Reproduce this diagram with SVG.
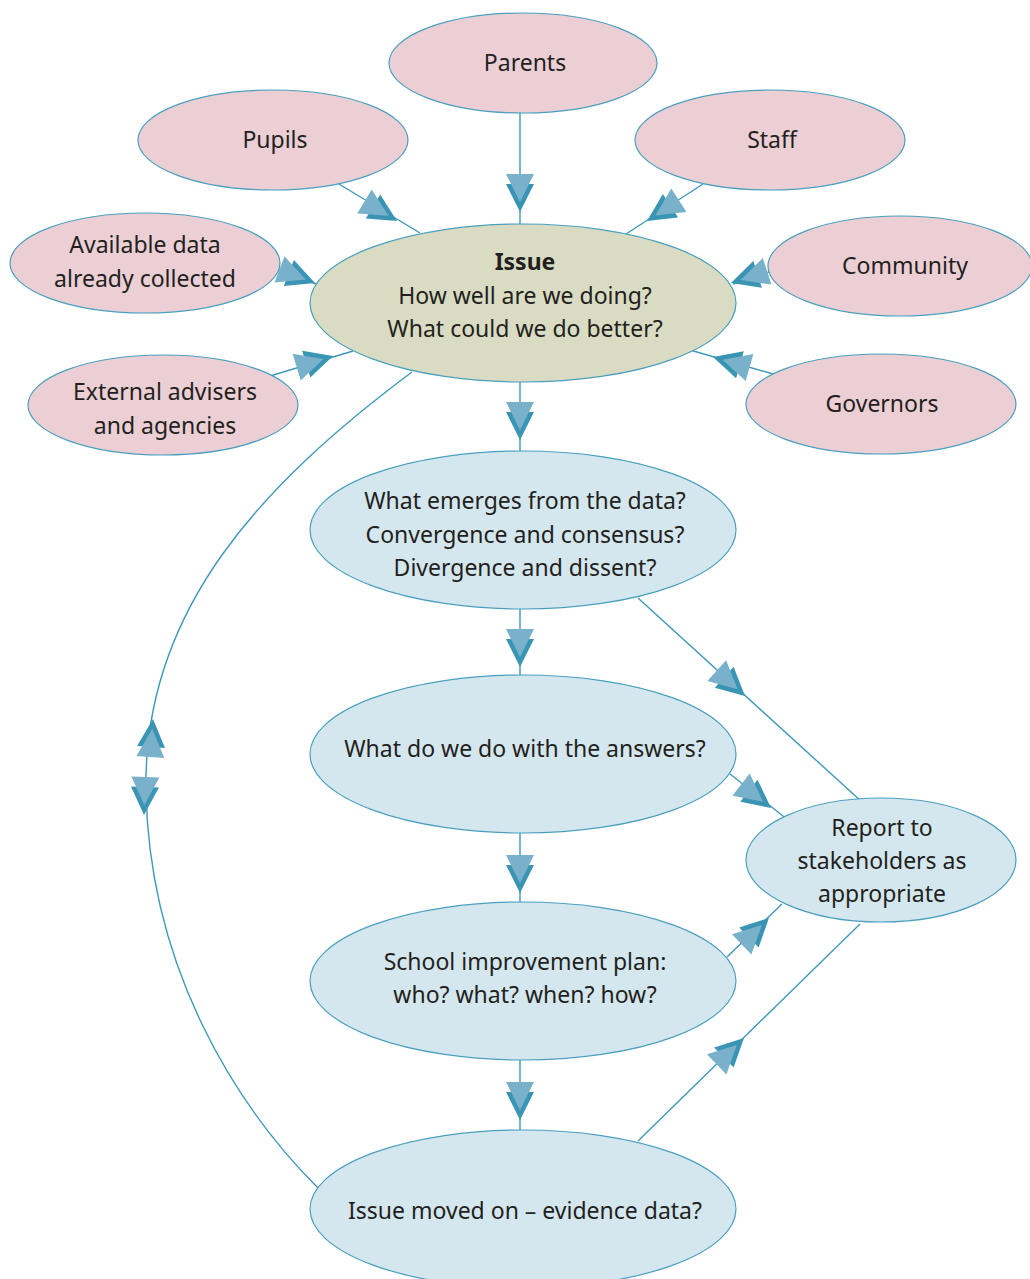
<svg xmlns="http://www.w3.org/2000/svg" xmlns:xlink="http://www.w3.org/1999/xlink" width="1030" height="1279" viewBox="0 0 1030 1279">
<style>
.pink{fill:#ebcfd5;stroke:#4a9fbf;stroke-width:1.2}
.olive{fill:#d9dcc2;stroke:#4a9fbf;stroke-width:1.2}
.blue{fill:#d5e7ee;stroke:#4a9fbf;stroke-width:1.2}
.ln{fill:none;stroke:#3f98b9;stroke-width:1.4}
.ahd{fill:#3a94b4}
.ahl{fill:#79b1cb}
text{font-family:"Noto Sans",Lato,"Liberation Sans",sans-serif;font-size:23px;fill:#231f20;text-anchor:middle}
.b{font-weight:bold}
</style>
<defs>
<g id="ah"><polygon class="ahd" points="-28,-14 0,0 -28,14"/><polygon class="ahl" points="-38,-14 -10,0 -38,14"/></g>
</defs>
<g id="connectors">
<line class="ln" x1="520" y1="113" x2="520" y2="225"/>
<line class="ln" x1="339" y1="184" x2="420" y2="233"/>
<line class="ln" x1="703" y1="184" x2="626" y2="234"/>
<line class="ln" x1="278" y1="270" x2="316" y2="284"/>
<line class="ln" x1="772" y1="271" x2="733" y2="284"/>
<line class="ln" x1="270" y1="376" x2="353" y2="351"/>
<line class="ln" x1="773" y1="374" x2="690" y2="350"/>
<line class="ln" x1="520" y1="382" x2="520" y2="451"/>
<line class="ln" x1="520" y1="609" x2="520" y2="676"/>
<line class="ln" x1="520" y1="833" x2="520" y2="902"/>
<line class="ln" x1="520" y1="1060" x2="520" y2="1130"/>
<line class="ln" x1="638" y1="598" x2="862" y2="802"/>
<line class="ln" x1="730" y1="774" x2="788" y2="820"/>
<line class="ln" x1="727" y1="957" x2="782" y2="904"/>
<line class="ln" x1="638" y1="1141" x2="860" y2="924"/>
<path class="ln" d="M412,372 C262,484 143,610 146,790 C149,970 238,1108 318,1188"/>
<use xlink:href="#ah" transform="translate(520,212) rotate(90)"/>
<use xlink:href="#ah" transform="translate(397,221) rotate(31)"/>
<use xlink:href="#ah" transform="translate(647,221) rotate(147)"/>
<use xlink:href="#ah" transform="translate(315,283) rotate(21)"/>
<use xlink:href="#ah" transform="translate(731,283) rotate(162)"/>
<use xlink:href="#ah" transform="translate(333,356) rotate(-17)"/>
<use xlink:href="#ah" transform="translate(713,357) rotate(196)"/>
<use xlink:href="#ah" transform="translate(520,440) rotate(90)"/>
<use xlink:href="#ah" transform="translate(520,667) rotate(90)"/>
<use xlink:href="#ah" transform="translate(520,893) rotate(90)"/>
<use xlink:href="#ah" transform="translate(520,1120) rotate(90)"/>
<use xlink:href="#ah" transform="translate(745,696) rotate(42)"/>
<use xlink:href="#ah" transform="translate(771,808) rotate(38)"/>
<use xlink:href="#ah" transform="translate(769,918) rotate(-44)"/>
<use xlink:href="#ah" transform="translate(744,1038) rotate(-44)"/>
<use xlink:href="#ah" transform="translate(153,719) rotate(-86)"/>
<use xlink:href="#ah" transform="translate(144,815) rotate(92)"/>
</g>
<g id="parents"><ellipse class="pink" cx="523" cy="63" rx="134" ry="50"/><text x="525" y="71">Parents</text></g>
<g id="pupils"><ellipse class="pink" cx="273" cy="140" rx="135" ry="50"/><text x="275" y="148">Pupils</text></g>
<g id="staff"><ellipse class="pink" cx="770" cy="140" rx="135" ry="50"/><text x="772" y="148">Staff</text></g>
<g id="available"><ellipse class="pink" cx="145" cy="263" rx="135" ry="50"/><text x="145" y="253">Available data</text><text x="145" y="287">already collected</text></g>
<g id="community"><ellipse class="pink" cx="900" cy="266" rx="132" ry="50"/><text x="905" y="274">Community</text></g>
<g id="external"><ellipse class="pink" cx="163" cy="405" rx="135" ry="50"/><text x="165" y="400">External advisers</text><text x="165" y="434">and agencies</text></g>
<g id="governors"><ellipse class="pink" cx="881" cy="404" rx="135" ry="50"/><text x="882" y="412">Governors</text></g>
<g id="issue"><ellipse class="olive" cx="523" cy="303" rx="213" ry="79"/><text x="525" y="270" class="b">Issue</text><text x="525" y="304">How well are we doing?</text><text x="525" y="337">What could we do better?</text></g>
<g id="emerges"><ellipse class="blue" cx="523" cy="530" rx="213" ry="79"/><text x="525" y="509">What emerges from the data?</text><text x="525" y="543">Convergence and consensus?</text><text x="525" y="576">Divergence and dissent?</text></g>
<g id="answers"><ellipse class="blue" cx="523" cy="754" rx="213" ry="79"/><text x="525" y="757">What do we do with the answers?</text></g>
<g id="plan"><ellipse class="blue" cx="523" cy="981" rx="213" ry="79"/><text x="525" y="970">School improvement plan:</text><text x="525" y="1003">who? what? when? how?</text></g>
<g id="movedon"><ellipse class="blue" cx="523" cy="1209" rx="213" ry="79"/><text x="525" y="1219">Issue moved on – evidence data?</text></g>
<g id="report"><ellipse class="blue" cx="881" cy="860" rx="135" ry="62"/><text x="882" y="836">Report to</text><text x="882" y="869">stakeholders as</text><text x="882" y="902">appropriate</text></g>
</svg>
